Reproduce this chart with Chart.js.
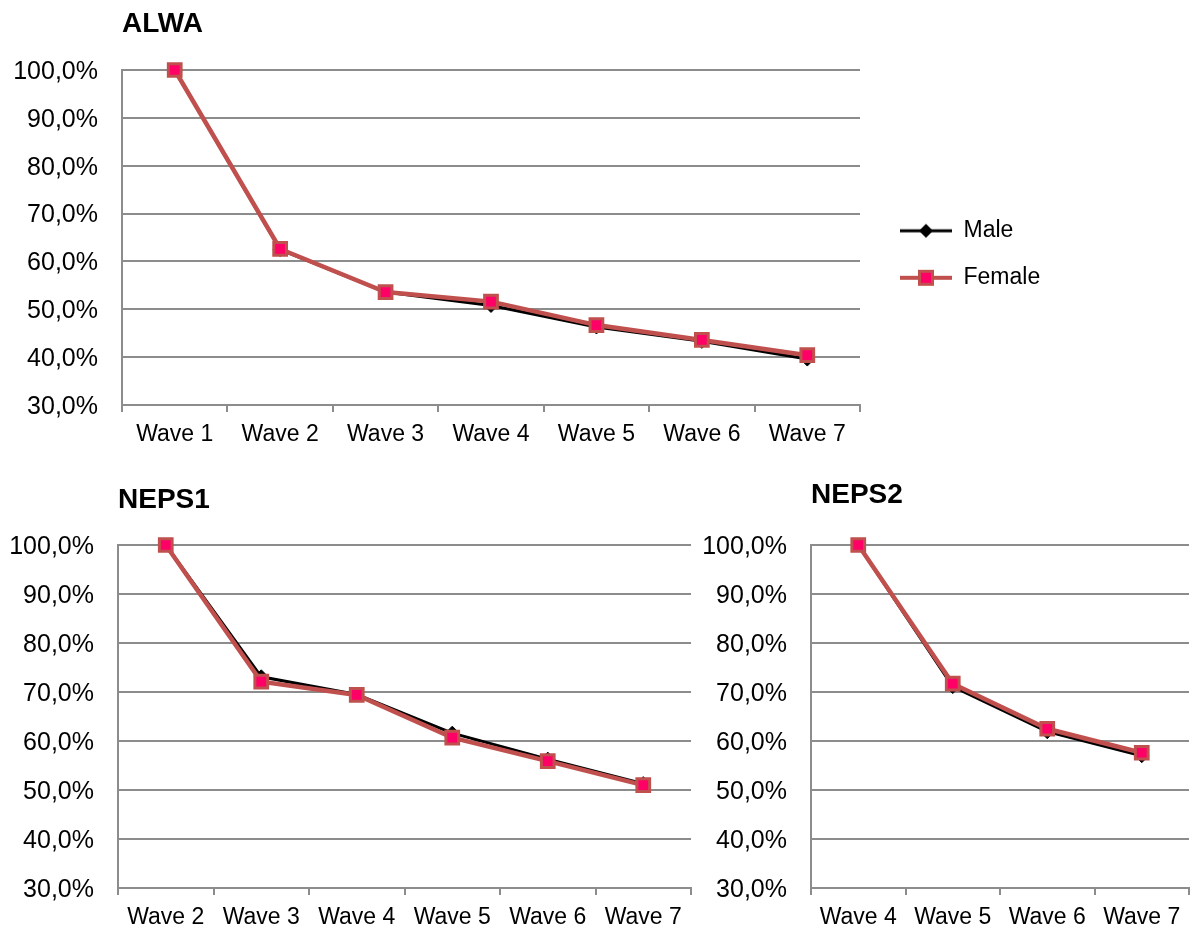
<!DOCTYPE html>
<html>
<head>
<meta charset="utf-8">
<title>Panel retention by wave</title>
<script src="https://cdn.jsdelivr.net/npm/chart.js@4/dist/chart.umd.min.js"></script>
<style>
    html, body { margin: 0; padding: 0; background: #ffffff; }
    body { width: 1192px; height: 931px; position: relative; overflow: hidden; }
    .panel { position: absolute; }
</style>
</head>
<body>
<div class="panel" style="left:0;top:0;width:1192px;height:470px"><canvas id="alwa"></canvas></div>
<div class="panel" style="left:0;top:470px;width:703px;height:461px"><canvas id="neps1"></canvas></div>
<div class="panel" style="left:692px;top:470px;width:509px;height:461px"><canvas id="neps2"></canvas></div>
<script>
// values (percent of wave-1 sample still in panel)
const alwaWaves = ["Wave 1", "Wave 2", "Wave 3", "Wave 4", "Wave 5", "Wave 6", "Wave 7"];
const alwaMale = [100, 62.5, 53.6, 50.8, 46.3, 43.3, 39.6];
const alwaFemale = [100, 62.6, 53.6, 51.6, 46.7, 43.6, 40.4];

const neps1Waves = ["Wave 2", "Wave 3", "Wave 4", "Wave 5", "Wave 6", "Wave 7"];
const neps1Male = [100, 73.1, 69.5, 61.6, 56.3, 51.3];
const neps1Female = [100, 72.1, 69.4, 60.7, 55.9, 51.0];

const neps2Waves = ["Wave 4", "Wave 5", "Wave 6", "Wave 7"];
const neps2Male = [100, 71.1, 61.9, 57.0];
const neps2Female = [100, 71.7, 62.5, 57.6];

const percentTicks = [30, 40, 50, 60, 70, 80, 90, 100];

const GRID = "#8c8c8c";
const MALE_COLOR = "#000000";
const FEMALE_LINE = "#C0504D";
const FEMALE_FILL = "#FF0066";

Chart.defaults.font.family = "'Liberation Sans', Arial, sans-serif";
Chart.defaults.color = "#000000";

// small line+marker pictures for the legend, like the Excel legend keys
function legendKey(kind) {
    const c = document.createElement("canvas");
    c.width = 68;
    c.height = 24;
    const ctx = c.getContext("2d");
    const mid = 42;

    ctx.beginPath();
    ctx.moveTo(16, 12);
    ctx.lineTo(68, 12);

    if (kind === "male") {
        ctx.strokeStyle = MALE_COLOR;
        ctx.lineWidth = 3;
        ctx.stroke();
        ctx.beginPath();
        ctx.moveTo(mid, 5);
        ctx.lineTo(mid + 7, 12);
        ctx.lineTo(mid, 19);
        ctx.lineTo(mid - 7, 12);
        ctx.closePath();
        ctx.fillStyle = MALE_COLOR;
        ctx.fill();
    } else {
        ctx.strokeStyle = FEMALE_LINE;
        ctx.lineWidth = 4;
        ctx.stroke();
        ctx.fillStyle = FEMALE_FILL;
        ctx.fillRect(mid - 6.5, 5.5, 13, 13);
        ctx.strokeStyle = FEMALE_LINE;
        ctx.lineWidth = 3;
        ctx.strokeRect(mid - 6.5, 5.5, 13, 13);
    }
    return c;
}

const legendKeys = [legendKey("male"), legendKey("female")];

function percentLabel(value) {
    return value.toFixed(1).replace(".", ",") + "%";
}

function buildChart(canvasId, titleText, waves, male, female, setup) {

    const canvas = document.getElementById(canvasId);

    const legend = setup.legend ? {
        display: true,
        position: "right",
        align: "center",
        fullSize: false,
        maxWidth: 186,
        title: {
            display: true,
            text: "",
            padding: 0,
            font: { size: 28 }
        },
        labels: {
            usePointStyle: true,
            pointStyleWidth: 68,
            padding: 24,
            color: "#000000",
            font: { size: 23 },
            generateLabels: (chart) => chart.data.datasets.map((ds, i) => ({
                text: ds.label,
                pointStyle: legendKeys[i],
                datasetIndex: i,
                hidden: false,
                fontColor: "#000000",
                lineWidth: 0,
                strokeStyle: "rgba(0,0,0,0)",
                fillStyle: "rgba(0,0,0,0)"
            }))
        }
    } : { display: false };

    return new Chart(canvas, {
        type: "line",

        data: {
            labels: waves,

            datasets: [
                {
                    label: "Male",
                    data: male,
                    order: 1,
                    borderColor: MALE_COLOR,
                    backgroundColor: MALE_COLOR,
                    borderWidth: 3,
                    tension: 0,
                    clip: false,
                    pointStyle: "rectRot",
                    pointRadius: 7,
                    pointBackgroundColor: MALE_COLOR,
                    pointBorderColor: MALE_COLOR,
                    pointBorderWidth: 1
                },
                {
                    label: "Female",
                    data: female,
                    order: 0,
                    borderColor: FEMALE_LINE,
                    backgroundColor: FEMALE_FILL,
                    borderWidth: 4.5,
                    tension: 0,
                    clip: false,
                    pointStyle: "rect",
                    pointRadius: 9,
                    pointBackgroundColor: FEMALE_FILL,
                    pointBorderColor: FEMALE_LINE,
                    pointBorderWidth: 3
                }
            ]
        },

        options: {
            responsive: true,
            maintainAspectRatio: false,
            animation: false,

            layout: {
                padding: setup.padding
            },

            plugins: {
                title: {
                    display: true,
                    text: titleText,
                    align: "start",
                    fullSize: false,
                    color: "#000000",
                    font: { size: 28, weight: "bold" },
                    padding: { top: 0, bottom: setup.titleGap }
                },
                legend: legend,
                tooltip: { enabled: false }
            },

            scales: {
                x: {
                    offset: true,
                    grid: {
                        display: true,
                        drawOnChartArea: false,
                        drawTicks: true,
                        tickLength: 7,
                        offset: true,
                        color: GRID,
                        lineWidth: 2
                    },
                    border: { display: true, color: GRID, width: 2 },
                    ticks: {
                        color: "#000000",
                        font: { size: 23 },
                        padding: setup.xLabelPad,
                        maxRotation: 0,
                        autoSkip: false
                    },
                    afterFit: (scale) => { scale.height = 40; }
                },

                y: {
                    min: 30,
                    max: 100,
                    afterBuildTicks: (scale) => {
                        scale.ticks = percentTicks.map((v) => ({ value: v }));
                    },
                    grid: {
                        color: GRID,
                        lineWidth: 2,
                        drawTicks: false
                    },
                    border: { display: true, color: GRID, width: 2 },
                    ticks: {
                        color: "#000000",
                        font: { size: 25 },
                        padding: 24,
                        labelOffset: 2,
                        callback: (value) => percentLabel(value)
                    },
                    afterFit: (scale) => { scale.width = setup.yWidth; }
                }
            }
        }
    });
}

buildChart("alwa", "ALWA", alwaWaves, alwaMale, alwaFemale, {
    legend: true,
    yWidth: 122,
    titleGap: 29.2,
    xLabelPad: 9,
    padding: { top: 7.2, bottom: 25, left: 0, right: 146 }
});

buildChart("neps1", "NEPS1", neps1Waves, neps1Male, neps1Female, {
    legend: false,
    yWidth: 118,
    titleGap: 28.2,
    xLabelPad: 8.5,
    padding: { top: 13.2, bottom: 3, left: 0, right: 1 }
});

buildChart("neps2", "NEPS2", neps2Waves, neps2Male, neps2Female, {
    legend: false,
    yWidth: 119,
    titleGap: 33.2,
    xLabelPad: 8.5,
    padding: { top: 8.2, bottom: 3, left: 0, right: 2 }
});
</script>
</body>
</html>
